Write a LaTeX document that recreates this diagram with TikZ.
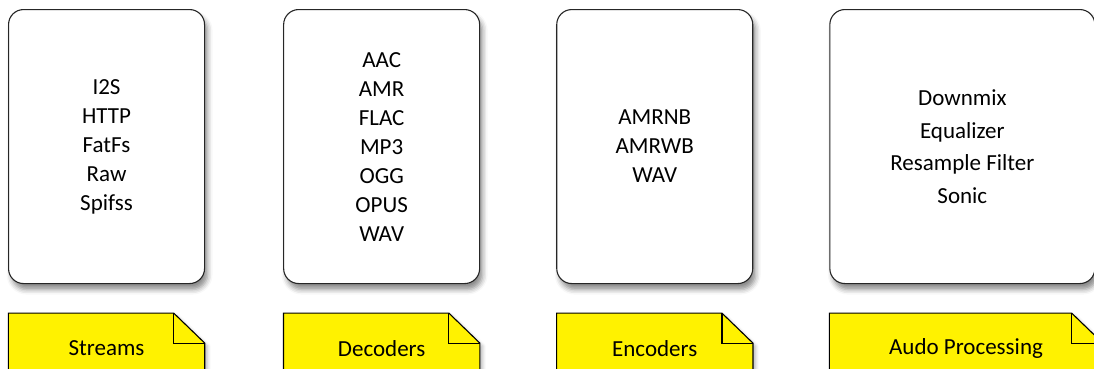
\documentclass[tikz,border=0pt]{standalone}
\usepackage{fontspec}
\setmainfont{Carlito}
\usetikzlibrary{positioning,calc,shadows.blur,backgrounds}

\tikzset{
  catbox/.style={draw=black!85, line width=1.1pt, rounded corners=15pt, fill=white,
    minimum width=196pt, minimum height=274pt, inner sep=0pt, align=center,
    font=\fontsize{23}{29}\selectfont,
    blur shadow={shadow xshift=3pt, shadow yshift=-6pt, shadow blur radius=5pt, shadow opacity=45}},
  notetxt/.style={minimum width=196pt, minimum height=70pt, inner sep=0pt,
    font=\fontsize{23}{29}\selectfont},
  notebg/.style={fill=yellow, draw=black, line width=1.1pt},
}

\begin{document}
\begin{tikzpicture}[x=1pt, y=-1pt]
    \clip (0,0) rectangle (1094,368);

    % Categories
    \node[catbox, anchor=north west] (strm) at (8,9) {I2S\\HTTP\\FatFs\\Raw\\Spifss};
    \node[catbox, right=78pt of strm] (dec) {AAC\\AMR\\FLAC\\MP3\\OGG\\OPUS\\WAV};
    \node[catbox, right=76pt of dec] (enc) {AMRNB\\AMRWB\\WAV};
    \node[catbox, right=76pt of enc, minimum width=265pt, font=\fontsize{23}{32.5}\selectfont] (proc) {Downmix\\Equalizer\\Resample Filter\\Sonic};

    % Notes
    \node[notetxt, below=29pt of strm] (strmnote) {Streams};
    \node[notetxt, below=29pt of dec] (decnote) {Decoders};
    \node[notetxt, below=29pt of enc] (encnote) {Encoders};
    \node[notetxt, below=29pt of proc.south west, anchor=north west, minimum width=273pt] (procnote) {Audo Processing};

    \begin{scope}[on background layer]
    \foreach \n in {strmnote,decnote,encnote,procnote} {
        \draw[notebg, blur shadow={shadow xshift=3pt, shadow yshift=-3pt, shadow blur radius=3pt, shadow opacity=25}]
            (\n.north west) -- ($(\n.north east)+(-31pt,0)$) -- ($(\n.north east)+(0,-30pt)$)
            -- (\n.south east) -- (\n.south west) -- cycle;
        \draw[notebg, fill=none] ($(\n.north east)+(-31pt,0)$) |- ($(\n.north east)+(0,-30pt)$);
    }
    \end{scope}
\end{tikzpicture}
\end{document}
